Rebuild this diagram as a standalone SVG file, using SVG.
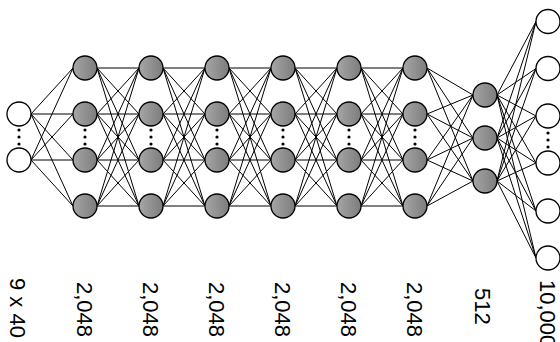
<svg xmlns="http://www.w3.org/2000/svg" xmlns:xlink="http://www.w3.org/1999/xlink" width="560" height="342" viewBox="0 0 560 342">
<style>
.edge{fill:none;stroke:#000;stroke-width:1}
.in{fill:#fff;stroke:#000;stroke-width:1.3}
.hid{fill:url(#g);stroke:#000;stroke-width:1.3}
.dot{fill:#000}
.lbl{font-family:"Liberation Sans",Arial,sans-serif;font-size:22px;fill:#000}
</style>
<defs>
<linearGradient id="g" x1="0" y1="0" x2="1" y2="0">
<stop offset="0" stop-color="#a6a6a6"/>
<stop offset="1" stop-color="#7c7c7c"/>
</linearGradient>
<path id="hh" class="edge" d="M97 68L139 68M97 68L139 114M97 68L139 160M97 68L139 206M97 114L139 68M97 114L139 114M97 114L139 160M97 114L139 206M97 160L139 68M97 160L139 114M97 160L139 160M97 160L139 206M97 206L139 68M97 206L139 114M97 206L139 160M97 206L139 206"/>
<g id="dots"><circle class="dot" cx="0" cy="130" r="1.6"/><circle class="dot" cx="0" cy="137" r="1.6"/><circle class="dot" cx="0" cy="144" r="1.6"/></g>
</defs>
<g id="connectors">
<path class="edge" d="M31 114L73 68M31 114L73 114M31 114L73 160M31 114L73 206M31 160L73 68M31 160L73 114M31 160L73 160M31 160L73 206"/>
<use xlink:href="#hh"/>
<use xlink:href="#hh" x="66"/>
<use xlink:href="#hh" x="132"/>
<use xlink:href="#hh" x="198"/>
<use xlink:href="#hh" x="264"/>
<path class="edge" d="M427 68L473 95M427 68L473 138M427 68L473 181M427 114L473 95M427 114L473 138M427 114L473 181M427 160L473 95M427 160L473 138M427 160L473 181M427 206L473 95M427 206L473 138M427 206L473 181"/>
<path class="edge" d="M497 95L536 21.5M497 95L536 68.5M497 95L536 116M497 95L536 163M497 95L536 211M497 95L536 258M497 138L536 21.5M497 138L536 68.5M497 138L536 116M497 138L536 163M497 138L536 211M497 138L536 258M497 181L536 21.5M497 181L536 68.5M497 181L536 116M497 181L536 163M497 181L536 211M497 181L536 258"/>
</g>
<g id="layer-input">
<circle class="in" cx="19" cy="114" r="12"/>
<circle class="in" cx="19" cy="160" r="12"/>
<use xlink:href="#dots" x="19"/>
<text class="lbl" transform="translate(10,278) rotate(90)">9 x 40</text>
</g>
<g id="layer-h1">
<circle class="hid" cx="85" cy="68" r="12"/><circle class="hid" cx="85" cy="114" r="12"/><circle class="hid" cx="85" cy="160" r="12"/><circle class="hid" cx="85" cy="206" r="12"/>
<use xlink:href="#dots" x="85"/>
<text class="lbl" transform="translate(77,282) rotate(90)">2,048</text>
</g>
<g id="layer-h2">
<circle class="hid" cx="151" cy="68" r="12"/><circle class="hid" cx="151" cy="114" r="12"/><circle class="hid" cx="151" cy="160" r="12"/><circle class="hid" cx="151" cy="206" r="12"/>
<use xlink:href="#dots" x="151"/>
<text class="lbl" transform="translate(143,282) rotate(90)">2,048</text>
</g>
<g id="layer-h3">
<circle class="hid" cx="217" cy="68" r="12"/><circle class="hid" cx="217" cy="114" r="12"/><circle class="hid" cx="217" cy="160" r="12"/><circle class="hid" cx="217" cy="206" r="12"/>
<use xlink:href="#dots" x="217"/>
<text class="lbl" transform="translate(209,282) rotate(90)">2,048</text>
</g>
<g id="layer-h4">
<circle class="hid" cx="283" cy="68" r="12"/><circle class="hid" cx="283" cy="114" r="12"/><circle class="hid" cx="283" cy="160" r="12"/><circle class="hid" cx="283" cy="206" r="12"/>
<use xlink:href="#dots" x="283"/>
<text class="lbl" transform="translate(275,282) rotate(90)">2,048</text>
</g>
<g id="layer-h5">
<circle class="hid" cx="349" cy="68" r="12"/><circle class="hid" cx="349" cy="114" r="12"/><circle class="hid" cx="349" cy="160" r="12"/><circle class="hid" cx="349" cy="206" r="12"/>
<use xlink:href="#dots" x="349"/>
<text class="lbl" transform="translate(341,282) rotate(90)">2,048</text>
</g>
<g id="layer-h6">
<circle class="hid" cx="415" cy="68" r="12"/><circle class="hid" cx="415" cy="114" r="12"/><circle class="hid" cx="415" cy="160" r="12"/><circle class="hid" cx="415" cy="206" r="12"/>
<use xlink:href="#dots" x="415"/>
<text class="lbl" transform="translate(407,282) rotate(90)">2,048</text>
</g>
<g id="layer-512">
<circle class="hid" cx="485" cy="95" r="12"/><circle class="hid" cx="485" cy="138" r="12"/><circle class="hid" cx="485" cy="181" r="12"/>
<text class="lbl" transform="translate(475,288) rotate(90)">512</text>
</g>
<g id="layer-output">
<circle class="in" cx="548" cy="21.5" r="12"/><circle class="in" cx="548" cy="68.5" r="12"/><circle class="in" cx="548" cy="116" r="12"/><circle class="in" cx="548" cy="163" r="12"/><circle class="in" cx="548" cy="211" r="12"/><circle class="in" cx="548" cy="258" r="12"/>
<use xlink:href="#dots" x="548" y="3"/>
<text class="lbl" transform="translate(540,280) rotate(90)">10,000</text>
</g>
</svg>
